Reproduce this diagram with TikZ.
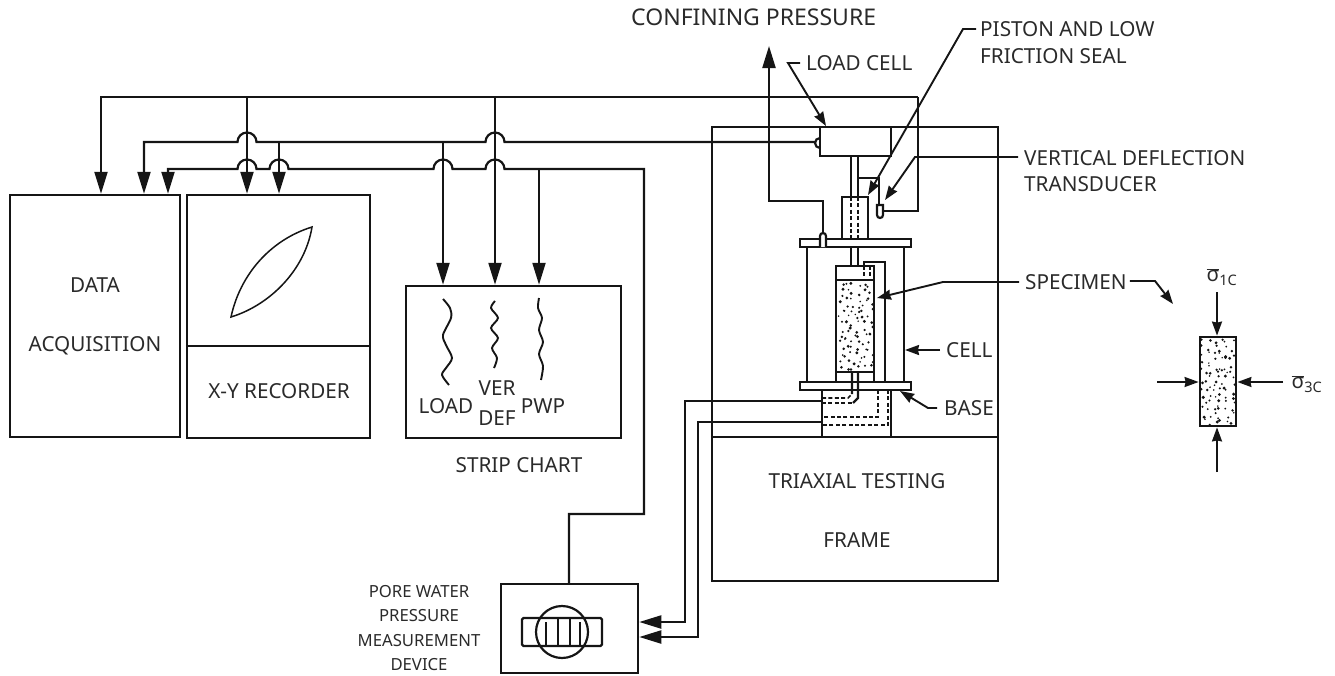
\documentclass[tikz,border=0pt]{standalone}
\usepackage{fontspec}
\setmainfont{Noto Sans}
\usepackage{tikz}
\usetikzlibrary{calc,arrows.meta}
\definecolor{ink}{HTML}{151515}
\definecolor{lab}{HTML}{2A2A2A}
\tikzset{
  wire/.style={draw=ink, line width=2.2pt, line join=miter},
  flow/.style={wire, >={Stealth[inset=0pt,length=22pt,width=13pt]}},
  lead/.style={draw=ink, line width=1.9pt, >={Stealth[inset=1pt,length=14pt,width=10pt]}},
  hid/.style={draw=ink, line width=1.6pt, dash pattern=on 4pt off 2.4pt},
  box/.style={draw=ink, line width=2.5pt, inner sep=0pt},
  lab/.style={text=lab, font=\fontsize{20.7}{24}\selectfont, inner sep=0pt},
  labs/.style={text=lab, font=\fontsize{16.7}{20}\selectfont, inner sep=0pt},
  hop/.style={to path={-- ($(\tikztotarget)+(-9.5,0)$) arc (180:360:9.5)}}
}
% loose grains of soil in a rectangle
\newcommand{\speckle}[4]{%
  \foreach \i in {0,...,5} {\foreach \j in {0,...,13} {
    \fill[ink] ({#1+#3*(\i+rnd)/6},{#2+#4*(\j+rnd)/14}) circle ({0.8+0.9*rnd});}}}
\newcommand{\stress}[2]{\(\overline{\mbox{σ}}\)\textsubscript{#1#2}}

\begin{document}
\begin{tikzpicture}[x=1pt,y=-1pt]
  \useasboundingbox (0,0) rectangle (1335,675);
  \pgfmathsetseed{4711}

  % instruments
  \node[box,lab,minimum width=170pt,minimum height=242pt,align=center] (data) at (95,316) {DATA\\[35pt]ACQUISITION};
  \node[box,minimum width=183pt,minimum height=243pt] (xy) at (278.5,316.5) {};
  \draw[wire] (xy.west |- 0,346) -- (xy.east |- 0,346);
  \node[lab] (xylab) at (279,391) {X-Y RECORDER};
  \node[box,minimum width=215pt,minimum height=152pt] (strip) at (513.5,362) {};
  \node[lab] (striplab) at (519,465) {STRIP CHART};
  \node[lab] (loadlab) at (446,406) {LOAD};
  \node[lab,align=center] (verlab) at (497,403) {VER\\[6pt]DEF};
  \node[lab] (pwplab) at (543,406) {PWP};
  \node[box,minimum width=137pt,minimum height=89pt] (pore) at (569.5,628.5) {};
  \node[labs,align=center] (porelab) at (419,628) {PORE WATER\\[4.5pt]PRESSURE\\[4.5pt]MEASUREMENT\\[4.5pt]DEVICE};

  % frame
  \node[box,minimum width=286pt,minimum height=454pt] (frame) at (855,354) {};
  \draw[box] (frame.west |- 0,437) -- (frame.east |- 0,437);
  \node[lab,align=center] (framelab) at (857,510) {TRIAXIAL TESTING\\[35pt]FRAME};
  \node[box,minimum width=71pt,minimum height=29pt] (cellbox) at (855.5,141.5) {};

  % recorded traces
  \draw[lead,line width=1.5pt] (231,317) .. controls (240,275) and (270,240) .. (312,227)
    .. controls (305,270) and (270,305) .. (231,317) -- cycle;
  \draw[lead] plot[smooth] coordinates {(443,299) (450,308) (451,318) (443,335) (446,345) (452,358) (446,368) (442,375) (449,385)};
  \draw[lead] plot[smooth] coordinates {(495,301) (491,308) (498,318) (491,328) (498,338) (492,348) (497,358) (494,368)};
  \draw[lead] plot[smooth] coordinates {(539,298) (538,308) (542,318) (539,330) (543,342) (539,354) (543,366) (541,380)};

  % signal lines
  \coordinate (topL) at (101,97); \coordinate (topXY) at (247,97);
  \coordinate (topVer) at (495,97); \coordinate (topR) at (918,97);
  \coordinate (midL) at (144,142); \coordinate (midXY) at (279,142); \coordinate (midLoad) at (443,142);
  \coordinate (lowL) at (168,169); \coordinate (lowPwp) at (539,169); \coordinate (lowR) at (644,169);
  \coordinate (port) at (815,143); \coordinate (transEnd) at (883,211);
  \coordinate (poreUp) at (569,514);

  \draw[flow,->] (topR) -- (topL) -- (topL |- data.north);
  \draw[wire] (transEnd) -| (topR);
  \draw[flow,->] (topXY) -- (topXY |- xy.north);
  \draw[flow,->] (topVer) -- (topVer |- strip.north);
  \draw[flow,<-] (midL |- data.north) -- (midL) to[hop] (topXY |- midL) to[hop] (topVer |- midL) -- (port |- midL);
  \draw[wire] (820,138) arc (270:90:5);
  \draw[flow,<-] (lowL |- data.north) -- (lowL) to[hop] (topXY |- lowL) to[hop] (midXY |- lowL)
     to[hop] (midLoad |- lowL) to[hop] (topVer |- lowL) -- (lowR) -- (lowR |- poreUp) -- (poreUp) -- (poreUp |- pore.north);
  \draw[flow,->] (midXY) -- (midXY |- xy.north);
  \draw[flow,->] (midLoad) -- (midLoad |- strip.north);
  \draw[flow,->] (lowPwp) -- (lowPwp |- strip.north);

  % pressure and pore lines
  \coordinate (confTip) at (769,46); \coordinate (confIn) at (823,233);
  \coordinate (poreA) at (685,401); \coordinate (poreB) at (698,422);
  \draw[flow,->] (confIn) |- (confTip |- 0,201) -- (confTip);
  \draw[flow,->] (822,401) -- (poreA) |- (pore.east |- 0,622);
  \draw[flow,->] (822,422) -- (poreB) |- (pore.east |- 0,637);

  % loading piston and transducer
  \draw[wire] (851,156) -- (851,197) (858,156) -- (858,197);
  \draw[wire] (868,240) -- (868,197) -- (842,197) -- (842,240);
  \draw[wire] (858,178) -- (879,178) -- (879,205);
  \draw[wire] (877,205) -- (877,215) arc (180:0:3) -- (883,205) -- cycle;
  \draw[hid] (851,197) -- (851,240) (858,197) -- (858,240);

  % triaxial cell
  \draw[box,line width=2.2pt,fill=white] (800,239) rectangle (911,247);
  \draw[box,line width=2.2pt,fill=white] (800,382) rectangle (911,390);
  \draw[wire,fill=white] (820,247) -- (820,236) arc (180:360:3) -- (826,247);
  \draw[wire] (807,247) -- (807,382) (904,247) -- (904,382);
  \draw[wire] (851,247) -- (851,266) (858,247) -- (858,266);
  \draw[wire] (836,382) -- (836,266) -- (874,266) -- (874,382);
  \draw[wire] (836,280) -- (874,280) (836,372) -- (874,372);
  \draw[wire] (864,266) -- (864,262) -- (885,262) -- (885,382);
  \draw[hid] (864,266) -- (864,280) (870,266) -- (870,280);
  \speckle{838}{283}{35}{87}

  % base with its ports
  \draw[wire] (822,390) -- (822,437) (891,390) -- (891,437);
  \draw[wire] (852,372) -- (852,394) (858,372) -- (858,398) -- (853,403);
  \draw[hid] (822,398) -- (848,398) -- (852,394);
  \draw[hid] (822,403) -- (853,403);
  \draw[hid] (878,390) -- (878,417) -- (822,417);
  \draw[hid] (888,390) -- (888,425) -- (822,425);

  % gauge
  \draw[wire,rounded corners=1.5pt] (522,618) rectangle (602,646);
  \draw[wire] (562,632) circle (26);
  \draw[wire] (546,622) -- (546,646) (558,618) -- (558,646) (570,618) -- (570,646) (580,622) -- (580,646);

  % parts and their pointers
  \node[lab,font=\fontsize{23}{26}\selectfont,anchor=west] (conflab) at (631,17) {CONFINING PRESSURE};
  \node[lab,anchor=west] (cellloadlab) at (806,63) {LOAD CELL};
  \node[lab,anchor=west,align=left] (pistonlab) at (980,43) {PISTON AND LOW\\[3pt]FRICTION SEAL};
  \node[lab,anchor=west,align=left] (translab) at (1024,171) {VERTICAL DEFLECTION\\[2pt]TRANSDUCER};
  \node[lab,anchor=west] (speclab) at (1025,282) {SPECIMEN};
  \node[lab,anchor=west] (celllab) at (946,350) {CELL};
  \node[lab,anchor=west] (baselab) at (944,408) {BASE};
  \draw[lead,->] (cellloadlab.west) ++(-6,0) -- ++(-12,0) -- (826,126);
  \draw[lead,->] (pistonlab.west |- 0,29) ++(-4,0) -- (963,29) -- (868,195);
  \draw[lead,->] (translab.west |- 0,157) ++(-6,0) -- (915,157) -- (885,200);
  \draw[lead,->] (speclab.west) ++(-6,0) -- (943,282) -- (877,298);
  \draw[lead,->] (celllab.west) ++(-6,0) -- (905,350);
  \draw[lead,->] (baselab.west) ++(-7,0) -- (928,408) -- (900,391);
  \draw[lead,->] (speclab.east) ++(3,-1) -- (1155,281) -- (1173,304);

  % element under confining stress
  \node[box,line width=2.8pt,minimum width=36pt,minimum height=89pt] (elem) at (1218,381.5) {};
  \pgfmathsetseed{815}
  \speckle{1201}{339}{34}{86}
  \node[lab] (s1lab) at (1222,277) {\stress{1}{C}};
  \node[lab] (s3lab) at (1307,384) {\stress{3}{C}};
  \coordinate (northEnd) at (1217,292); \coordinate (southEnd) at (1217,472);
  \coordinate (westEnd) at (1157,382); \coordinate (eastEnd) at (1283,382);
  \draw[lead,->] (northEnd) -- (northEnd |- elem.north);
  \draw[lead,->] (southEnd) -- (southEnd |- elem.south);
  \draw[lead,->] (westEnd) -- (westEnd -| elem.west);
  \draw[lead,->] (eastEnd) -- (eastEnd -| elem.east);
\end{tikzpicture}
\end{document}
